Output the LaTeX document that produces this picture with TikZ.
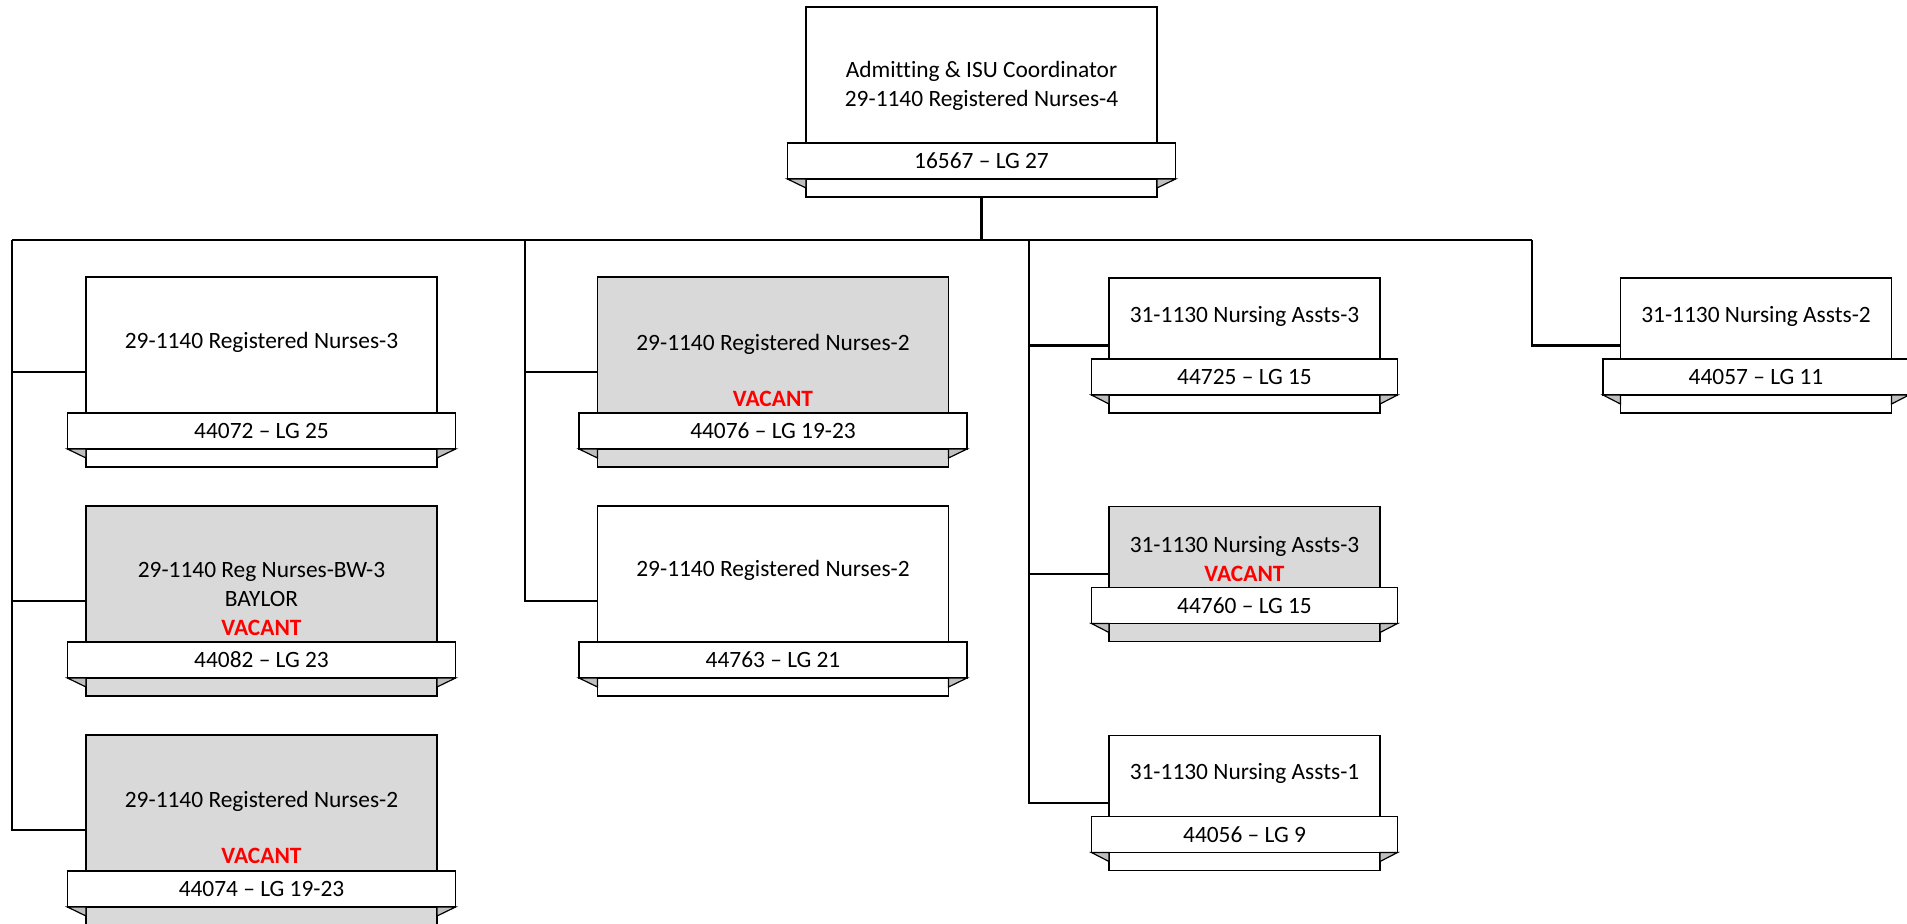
\documentclass[tikz,border=0pt]{standalone}
\usepackage{fontspec}
\setmainfont{Carlito}[Ligatures={TeX,NoCommon}]
\usetikzlibrary{positioning}

\definecolor{vacgrey}{HTML}{D9D9D9}
\definecolor{foldgrey}{HTML}{BFBFBF}
\definecolor{vacred}{HTML}{FF0000}

\tikzset{
  post/.style={draw, line width=0.75pt, fill=white, minimum width=175.5pt,
    minimum height=95pt, inner sep=0pt, outer sep=0pt},
  postsm/.style={post, minimum width=135.5pt, minimum height=67.5pt},
  ribbon/.style={draw, line width=0.75pt, fill=white, minimum width=194pt,
    minimum height=18pt, inner sep=0pt, outer sep=0pt,
    font=\fontsize{11.7}{14.5}\selectfont},
  ribbonsm/.style={ribbon, minimum width=153pt},
  title/.style={align=center, inner sep=0pt, font=\fontsize{11.7}{14.5}\selectfont},
  link/.style={line width=1.1pt},
}
\newcommand{\vac}{\textbf{\color{vacred}VACANT}}

\begin{document}
\begin{tikzpicture}[x=0.5pt,y=-0.5pt]
		\useasboundingbox (0,0) rectangle (1907,923);
		
		% Puestos
		\node[post] (top) at (981.5,102) {};
		\node[post] (L1) at (261.5,372) {};
		\node[post, fill=vacgrey] (L2) at (261.5,601) {};
		\node[post, fill=vacgrey] (L3) at (261.5,830) {};
		\node[post, fill=vacgrey] (M1) at (773,372) {};
		\node[post] (M2) at (773,601) {};
		\node[postsm] (R1) at (1244.5,345.5) {};
		\node[postsm, fill=vacgrey] (R2) at (1244.5,574) {};
		\node[postsm] (R3) at (1244.5,803) {};
		\node[postsm] (F1) at (1756,345.5) {};
		
		% Cintas
		\node[ribbon, above=9pt of top.south] (topr) {16567 -- LG 27};
		\node[ribbon, above=9pt of L1.south] (L1r) {44072 -- LG 25};
		\node[ribbon, above=9pt of L2.south] (L2r) {44082 -- LG 23};
		\node[ribbon, above=9pt of L3.south] (L3r) {44074 -- LG 19-23};
		\node[ribbon, above=9pt of M1.south] (M1r) {44076 -- LG 19-23};
		\node[ribbon, above=9pt of M2.south] (M2r) {44763 -- LG 21};
		\node[ribbonsm, above=9pt of R1.south] (R1r) {44725 -- LG 15};
		\node[ribbonsm, above=9pt of R2.south] (R2r) {44760 -- LG 15};
		\node[ribbonsm, above=9pt of R3.south] (R3r) {44056 -- LG 9};
		\node[ribbonsm, above=9pt of F1.south] (F1r) {44057 -- LG 11};
		
		% Pliegues
		\foreach \n in {top,L1,L2,L3,M1,M2,R1,R2,R3,F1}{
			\filldraw[fill=foldgrey, line width=0.6pt] (\n r.south west) -- (\n r.south west -| \n.west)
				-- ([yshift=-4.5pt]\n r.south west -| \n.west) -- cycle;
			\filldraw[fill=foldgrey, line width=0.6pt] (\n r.south east) -- (\n r.south east -| \n.east)
				-- ([yshift=-4.5pt]\n r.south east -| \n.east) -- cycle;
		}
		
		% Titulos
		\node[title] (topt) at ([yshift=-39.5pt]top.north) {Admitting \& ISU Coordinator\\29-1140 Registered Nurses-4};
		\node[title] (L1t) at ([yshift=-32.5pt]L1.north) {29-1140 Registered Nurses-3};
		\node[title] (L2t) at ([yshift=-46.25pt]L2.north) {29-1140 Reg Nurses-BW-3\\BAYLOR\\\vac};
		\node[title] (L3t) at ([yshift=-46.25pt]L3.north) {29-1140 Registered Nurses-2\\[13.5pt]\vac};
		\node[title] (M1t) at ([yshift=-46.75pt]M1.north) {29-1140 Registered Nurses-2\\[13.5pt]\vac};
		\node[title] (M2t) at ([yshift=-32pt]M2.north) {29-1140 Registered Nurses-2};
		\node[title] (R1t) at ([yshift=-19pt]R1.north) {31-1130 Nursing Assts-3};
		\node[title] (R2t) at ([yshift=-26.25pt]R2.north) {31-1130 Nursing Assts-3\\\vac};
		\node[title] (R3t) at ([yshift=-19pt]R3.north) {31-1130 Nursing Assts-1};
		\node[title] (F1t) at ([yshift=-19pt]F1.north) {31-1130 Nursing Assts-2};
		
		% Lineas
		\coordinate (busL) at (12,240);
		\coordinate (busM) at (525,240);
		\coordinate (busN) at (1029,240);
		\coordinate (busR) at (1532,240);
		\draw[link] (top.south) -- (top.south |- busL);
		\draw[link] (busL) -- (busR);
		\draw[link] (busL) |- (L3.west);
		\draw[link] (busL |- L1.west) -- (L1.west);
		\draw[link] (busL |- L2.west) -- (L2.west);
		\draw[link] (busM) |- (M2.west);
		\draw[link] (busM |- M1.west) -- (M1.west);
		\draw[link] (busN) |- (R3.west);
		\draw[link] (busN |- R1.west) -- (R1.west);
		\draw[link] (busN |- R2.west) -- (R2.west);
		\draw[link] (busR) |- (F1.west);
		
	\end{tikzpicture}
\end{document}
